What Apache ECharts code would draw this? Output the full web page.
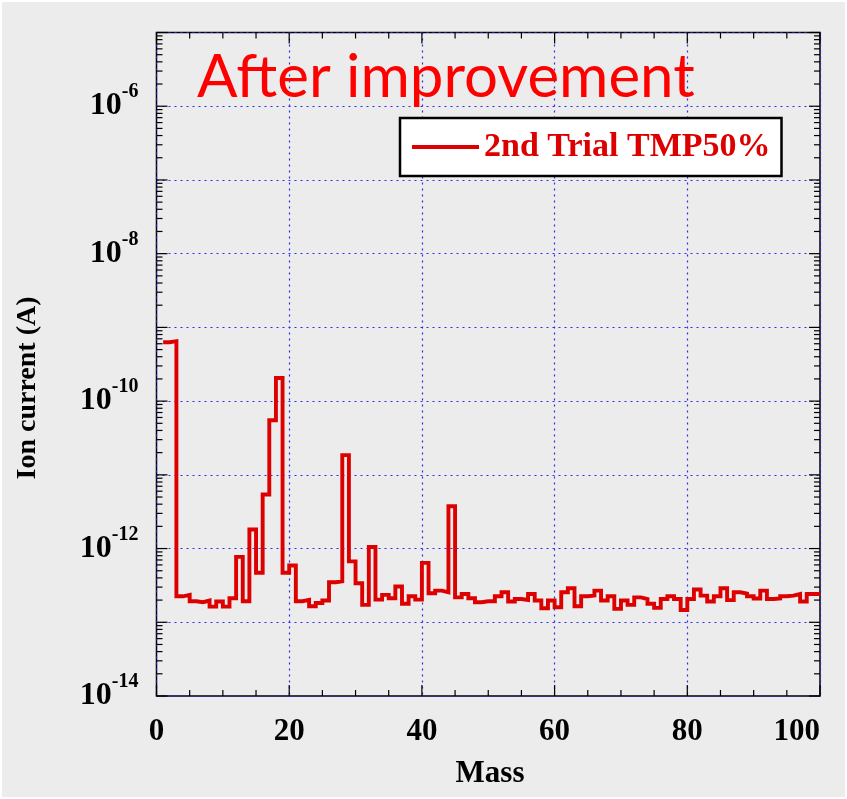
<!DOCTYPE html>
<html>
<head>
<meta charset="utf-8">
<script src="https://cdn.jsdelivr.net/npm/echarts/dist/echarts.min.js"></script>
<style>
  html, body { margin: 0; padding: 0; background: #ffffff; }
  #frame { position: absolute; left: 2px; top: 2px; width: 843px; height: 795px; }
</style>
</head>
<body>
<div id="frame"></div>
<script>
// Residual gas spectrum: one bin per mass unit, bin m covers [m, m+1)
const seriesName = '2nd Trial TMP50%';
const firstMass = 1;
const ionCurrent = [
  6.3e-10, 6.5e-10, 2.25e-13, 2.35e-13, 1.93e-13, 1.87e-13, 1.97e-13, 1.63e-13, 1.91e-13, 1.63e-13,   // 1-10
  2.12e-13, 7.7e-13, 1.93e-13, 1.81e-12, 4.7e-13, 5.4e-12, 5.5e-11, 2.06e-10, 4.7e-13, 5.9e-13,       // 11-20
  1.93e-13, 2.01e-13, 1.65e-13, 1.83e-13, 1.97e-13, 3.49e-13, 3.6e-13, 1.85e-11, 6.7e-13, 3.38e-13,   // 21-30
  1.72e-13, 1.05e-12, 2.03e-13, 2.35e-13, 2.12e-13, 3.05e-13, 1.78e-13, 2.25e-13, 2.03e-13, 6.4e-13,  // 31-40
  2.48e-13, 2.69e-13, 2.55e-13, 3.75e-12, 2.18e-13, 2.42e-13, 2.12e-13, 1.87e-13, 1.93e-13, 1.93e-13, // 41-50
  2.25e-13, 2.55e-13, 1.91e-13, 2.07e-13, 2.01e-13, 2.42e-13, 1.97e-13, 1.55e-13, 1.97e-13, 1.6e-13,  // 51-60
  2.55e-13, 2.89e-13, 1.65e-13, 2.25e-13, 2.3e-13, 2.69e-13, 1.97e-13, 2.25e-13, 1.52e-13, 1.97e-13,  // 61-70
  1.72e-13, 2.18e-13, 2.07e-13, 1.78e-13, 1.57e-13, 2.07e-13, 2.25e-13, 2.07e-13, 1.47e-13, 2.07e-13, // 71-80
  2.78e-13, 2.3e-13, 1.91e-13, 2.25e-13, 2.89e-13, 2.0e-13, 2.55e-13, 2.45e-13, 2.25e-13, 2.1e-13,    // 81-90
  2.69e-13, 2.07e-13, 2.1e-13, 2.25e-13, 2.3e-13, 2.42e-13, 1.91e-13, 2.42e-13, 2.42e-13               // 91-99
];

// Axis ranges and labelled decades
const massMin = 0, massMax = 100, massStep = 20, massMinorStep = 5;
const currentMin = 1e-14, currentMax = 1e-5;
const labelledExponents = [-14, -12, -10, -8, -6];

const serif = '"Liberation Serif", "Times New Roman", serif';
const gridColor = 'rgba(35, 35, 235, 0.95)';
const lineRed = '#dd0000';

// Histogram outline: left edge of each bin, closed at the right edge of the last bin
const histPoints = ionCurrent.map((v, i) => [firstMass + i, v]);
histPoints.push([firstMass + ionCurrent.length, ionCurrent[ionCurrent.length - 1]]);

const chart = echarts.init(document.getElementById('frame'), null, { renderer: 'canvas' });

function tickLine(x1, y1, x2, y2) {
  return { type: 'line', shape: { x1, y1, x2, y2 }, style: { stroke: '#000', lineWidth: 1.2 } };
}

chart.setOption({
  backgroundColor: '#ececec',
  animation: false,
  grid: {
    left: 154.5, top: 30.5, width: 663.5, height: 663.5,
    show: true, borderColor: '#000', borderWidth: 1.5, backgroundColor: 'transparent'
  },
  legend: {
    data: [seriesName],
    left: 398, top: 116,
    orient: 'horizontal',
    backgroundColor: '#ffffff',
    borderColor: '#000', borderWidth: 2.5, borderRadius: 0,
    padding: [12, 11, 12, 12],
    icon: 'rect', itemWidth: 67, itemHeight: 4,
    textStyle: { color: lineRed, fontFamily: serif, fontWeight: 'bold', fontSize: 34, lineHeight: 34 }
  },
  xAxis: {
    type: 'value', min: massMin, max: massMax, interval: massStep,
    axisLine: { show: false }, axisTick: { show: false },
    axisLabel: {
      margin: 20, color: '#000', fontFamily: serif, fontWeight: 'bold', fontSize: 31,
      alignMaxLabel: 'right'
    },
    splitLine: { show: true, lineStyle: { color: gridColor, width: 1.2, type: [2, 4] } }
  },
  yAxis: {
    type: 'log', logBase: 10, min: currentMin, max: currentMax, splitNumber: 9,
    axisLine: { show: false }, axisTick: { show: false },
    axisLabel: {
      margin: 18,
      formatter: function (v) {
        const e = Math.round(Math.log10(v));
        return labelledExponents.indexOf(e) >= 0 ? '{b|10}{s|' + e + '}' : '';
      },
      rich: {
        b: { fontFamily: serif, fontWeight: 'bold', fontSize: 32, color: '#000' },
        s: { fontFamily: serif, fontWeight: 'bold', fontSize: 20, color: '#000', padding: [0, 0, 28, 0] }
      }
    },
    splitLine: { show: true, lineStyle: { color: gridColor, width: 1.2, type: [2, 4] } }
  },
  graphic: [
    {
      type: 'text', left: 195, top: 46, z: 10,
      style: { text: 'After improvement', fill: '#ff0000', font: '60px Lato, "Noto Sans", sans-serif' }
    },
    {
      type: 'text', x: 488, y: 772, z: 10,
      style: { text: 'Mass', fill: '#000', font: 'bold 31px ' + serif, align: 'center', verticalAlign: 'middle' }
    },
    {
      type: 'text', x: 26, y: 386, rotation: Math.PI / 2, z: 10,
      style: { text: 'Ion current (A)', fill: '#000', font: 'bold 28px ' + serif, align: 'center', verticalAlign: 'middle' }
    }
  ],
  series: [
    {
      name: seriesName,
      type: 'line',
      step: 'end',
      data: histPoints,
      symbol: 'none',
      color: lineRed,
      lineStyle: { color: lineRed, width: 3.9, join: 'miter', cap: 'butt' },
      z: 3
    },
    {
      // Frame ticks: linear mass ticks on bottom/top, decade and sub-decade ticks on left/right
      type: 'custom',
      coordinateSystem: 'cartesian2d',
      silent: true,
      z: 4,
      data: [[massMin, currentMin]],
      renderItem: function (params, api) {
        const children = [];
        const xL = api.coord([massMin, currentMin])[0];
        const xR = api.coord([massMax, currentMin])[0];
        const yB = api.coord([massMin, currentMin])[1];
        const yT = api.coord([massMin, currentMax])[1];
        const eMin = Math.round(Math.log10(currentMin));
        const eMax = Math.round(Math.log10(currentMax));
        for (let e = eMin; e <= eMax; e++) {
          for (let k = 1; k <= 9; k++) {
            if (e === eMax && k > 1) break;
            const y = api.coord([massMin, k * Math.pow(10, e)])[1];
            const len = k === 1 ? 11 : 6;
            children.push(tickLine(xL, y, xL + len, y));
            children.push(tickLine(xR, y, xR - len, y));
          }
        }
        for (let m = massMin; m <= massMax; m += massMinorStep) {
          const x = api.coord([m, currentMin])[0];
          const len = m % massStep === 0 ? 11 : 6;
          children.push(tickLine(x, yB, x, yB - len));
          children.push(tickLine(x, yT, x, yT + len));
        }
        return { type: 'group', children: children };
      }
    }
  ]
});
</script>
</body>
</html>
